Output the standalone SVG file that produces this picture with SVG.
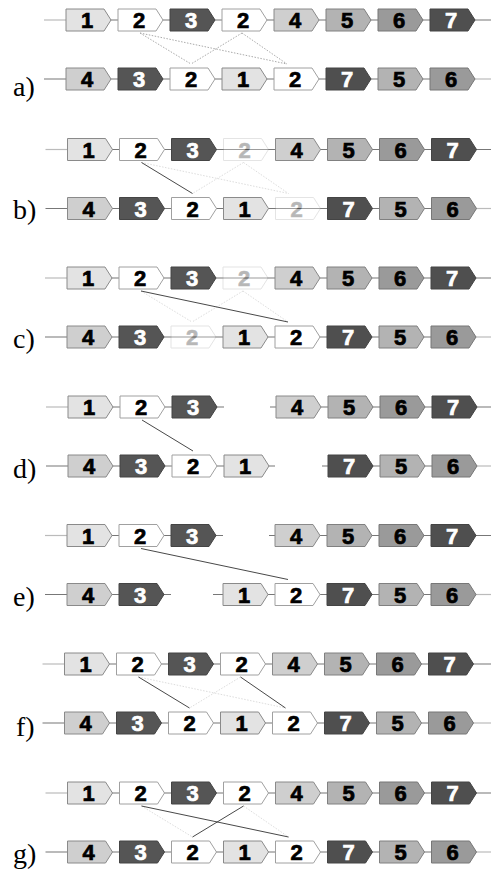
<svg xmlns="http://www.w3.org/2000/svg" xmlns:xlink="http://www.w3.org/1999/xlink" width="491" height="874" viewBox="0 0 491 874">
<style>
.gene text{font-family:"Liberation Sans","DejaVu Sans",sans-serif;font-weight:bold;font-size:22px;text-anchor:middle;stroke-width:0.7}
.k{fill:#000;stroke:#000}.w{fill:#fff;stroke:#fff}
.g1{fill:#e3e3e3;stroke:#8a8a8a}
.g2{fill:#fff;stroke:#a0a0a0}
.g3{fill:#555;stroke:#444}
.g4{fill:#cfcfcf;stroke:#8a8a8a}
.g5{fill:#b3b3b3;stroke:#808080}
.g6{fill:#9a9a9a;stroke:#777}
.g7{fill:#4f4f4f;stroke:#444}
.fade{opacity:0.28}
.bb{stroke:#777;stroke-width:1.2;fill:none}
.bbl{stroke:#bbb;stroke-width:1.2;fill:none}
.solid{stroke:#333;stroke-width:0.9;fill:none}
.dot{stroke:#aaa;stroke-width:1;stroke-dasharray:1.5 1.5;fill:none}
.faint{stroke:#ddd;stroke-width:1;stroke-dasharray:1.5 1.5;fill:none}
.lab{font-family:"Liberation Serif","DejaVu Serif",serif;font-size:28px;fill:#000}
</style>
<defs>
<path id="gene" d="M0,-11H38L45,0L38,11H0Z" stroke-width="1"/>
</defs>

<!-- Panel a -->
<g id="panel-a" transform="translate(0 20)">
<g class="connectors">
<path class="bbl" d="M44,0H66"/><path class="bb" d="M66,0H491"/>
<path class="bb" d="M44,59H470"/><path class="bbl" d="M470,59H491"/>
<path class="dot" d="M140,13L191,44"/>
<path class="dot" d="M242,13L191,44"/>
<path class="dot" d="M140,13L287,44"/>
<path class="dot" d="M242,13L287,44"/>
</g>
<g id="a-t1" class="gene" transform="translate(66 0)"><use xlink:href="#gene" class="g1"/><text x="21" y="8" class="k">1</text></g>
<g id="a-t2" class="gene" transform="translate(118 0)"><use xlink:href="#gene" class="g2"/><text x="21" y="8" class="k">2</text></g>
<g id="a-t3" class="gene" transform="translate(170 0)"><use xlink:href="#gene" class="g3"/><text x="21" y="8" class="w">3</text></g>
<g id="a-t4" class="gene" transform="translate(222 0)"><use xlink:href="#gene" class="g2"/><text x="21" y="8" class="k">2</text></g>
<g id="a-t5" class="gene" transform="translate(274 0)"><use xlink:href="#gene" class="g4"/><text x="21" y="8" class="k">4</text></g>
<g id="a-t6" class="gene" transform="translate(326 0)"><use xlink:href="#gene" class="g5"/><text x="21" y="8" class="k">5</text></g>
<g id="a-t7" class="gene" transform="translate(378 0)"><use xlink:href="#gene" class="g6"/><text x="21" y="8" class="k">6</text></g>
<g id="a-t8" class="gene" transform="translate(430 0)"><use xlink:href="#gene" class="g7"/><text x="21" y="8" class="w">7</text></g>
<g id="a-b1" class="gene" transform="translate(66 59)"><use xlink:href="#gene" class="g4"/><text x="21" y="8" class="k">4</text></g>
<g id="a-b2" class="gene" transform="translate(118 59)"><use xlink:href="#gene" class="g3"/><text x="21" y="8" class="w">3</text></g>
<g id="a-b3" class="gene" transform="translate(170 59)"><use xlink:href="#gene" class="g2"/><text x="21" y="8" class="k">2</text></g>
<g id="a-b4" class="gene" transform="translate(222 59)"><use xlink:href="#gene" class="g1"/><text x="21" y="8" class="k">1</text></g>
<g id="a-b5" class="gene" transform="translate(274 59)"><use xlink:href="#gene" class="g2"/><text x="21" y="8" class="k">2</text></g>
<g id="a-b6" class="gene" transform="translate(326 59)"><use xlink:href="#gene" class="g7"/><text x="21" y="8" class="w">7</text></g>
<g id="a-b7" class="gene" transform="translate(378 59)"><use xlink:href="#gene" class="g5"/><text x="21" y="8" class="k">5</text></g>
<g id="a-b8" class="gene" transform="translate(430 59)"><use xlink:href="#gene" class="g6"/><text x="21" y="8" class="k">6</text></g>
</g>

<!-- Panel b -->
<g id="panel-b" transform="translate(1.5 149.5)">
<g class="connectors">
<path class="bbl" d="M44,0H66"/><path class="bb" d="M66,0H491"/>
<path class="bb" d="M44,59H470"/><path class="bbl" d="M470,59H491"/>
<path class="faint" d="M242,13L191,44"/>
<path class="faint" d="M140,13L287,44"/>
<path class="faint" d="M242,13L287,44"/>
<path class="solid" d="M140,13L191,44"/>
</g>
<g id="b-t1" class="gene" transform="translate(66 0)"><use xlink:href="#gene" class="g1"/><text x="21" y="8" class="k">1</text></g>
<g id="b-t2" class="gene" transform="translate(118 0)"><use xlink:href="#gene" class="g2"/><text x="21" y="8" class="k">2</text></g>
<g id="b-t3" class="gene" transform="translate(170 0)"><use xlink:href="#gene" class="g3"/><text x="21" y="8" class="w">3</text></g>
<g id="b-t4" class="gene fade" transform="translate(222 0)"><use xlink:href="#gene" class="g2"/><text x="21" y="8" class="k">2</text></g>
<g id="b-t5" class="gene" transform="translate(274 0)"><use xlink:href="#gene" class="g4"/><text x="21" y="8" class="k">4</text></g>
<g id="b-t6" class="gene" transform="translate(326 0)"><use xlink:href="#gene" class="g5"/><text x="21" y="8" class="k">5</text></g>
<g id="b-t7" class="gene" transform="translate(378 0)"><use xlink:href="#gene" class="g6"/><text x="21" y="8" class="k">6</text></g>
<g id="b-t8" class="gene" transform="translate(430 0)"><use xlink:href="#gene" class="g7"/><text x="21" y="8" class="w">7</text></g>
<g id="b-b1" class="gene" transform="translate(66 59)"><use xlink:href="#gene" class="g4"/><text x="21" y="8" class="k">4</text></g>
<g id="b-b2" class="gene" transform="translate(118 59)"><use xlink:href="#gene" class="g3"/><text x="21" y="8" class="w">3</text></g>
<g id="b-b3" class="gene" transform="translate(170 59)"><use xlink:href="#gene" class="g2"/><text x="21" y="8" class="k">2</text></g>
<g id="b-b4" class="gene" transform="translate(222 59)"><use xlink:href="#gene" class="g1"/><text x="21" y="8" class="k">1</text></g>
<g id="b-b5" class="gene fade" transform="translate(274 59)"><use xlink:href="#gene" class="g2"/><text x="21" y="8" class="k">2</text></g>
<g id="b-b6" class="gene" transform="translate(326 59)"><use xlink:href="#gene" class="g7"/><text x="21" y="8" class="w">7</text></g>
<g id="b-b7" class="gene" transform="translate(378 59)"><use xlink:href="#gene" class="g5"/><text x="21" y="8" class="k">5</text></g>
<g id="b-b8" class="gene" transform="translate(430 59)"><use xlink:href="#gene" class="g6"/><text x="21" y="8" class="k">6</text></g>
</g>

<!-- Panel c -->
<g id="panel-c" transform="translate(1 278)">
<g class="connectors">
<path class="bbl" d="M44,0H66"/><path class="bb" d="M66,0H491"/>
<path class="bb" d="M44,59H470"/><path class="bbl" d="M470,59H491"/>
<path class="faint" d="M140,13L191,44"/>
<path class="faint" d="M242,13L191,44"/>
<path class="faint" d="M242,13L287,44"/>
<path class="solid" d="M140,13L287,44"/>
</g>
<g id="c-t1" class="gene" transform="translate(66 0)"><use xlink:href="#gene" class="g1"/><text x="21" y="8" class="k">1</text></g>
<g id="c-t2" class="gene" transform="translate(118 0)"><use xlink:href="#gene" class="g2"/><text x="21" y="8" class="k">2</text></g>
<g id="c-t3" class="gene" transform="translate(170 0)"><use xlink:href="#gene" class="g3"/><text x="21" y="8" class="w">3</text></g>
<g id="c-t4" class="gene fade" transform="translate(222 0)"><use xlink:href="#gene" class="g2"/><text x="21" y="8" class="k">2</text></g>
<g id="c-t5" class="gene" transform="translate(274 0)"><use xlink:href="#gene" class="g4"/><text x="21" y="8" class="k">4</text></g>
<g id="c-t6" class="gene" transform="translate(326 0)"><use xlink:href="#gene" class="g5"/><text x="21" y="8" class="k">5</text></g>
<g id="c-t7" class="gene" transform="translate(378 0)"><use xlink:href="#gene" class="g6"/><text x="21" y="8" class="k">6</text></g>
<g id="c-t8" class="gene" transform="translate(430 0)"><use xlink:href="#gene" class="g7"/><text x="21" y="8" class="w">7</text></g>
<g id="c-b1" class="gene" transform="translate(66 59)"><use xlink:href="#gene" class="g4"/><text x="21" y="8" class="k">4</text></g>
<g id="c-b2" class="gene" transform="translate(118 59)"><use xlink:href="#gene" class="g3"/><text x="21" y="8" class="w">3</text></g>
<g id="c-b3" class="gene fade" transform="translate(170 59)"><use xlink:href="#gene" class="g2"/><text x="21" y="8" class="k">2</text></g>
<g id="c-b4" class="gene" transform="translate(222 59)"><use xlink:href="#gene" class="g1"/><text x="21" y="8" class="k">1</text></g>
<g id="c-b5" class="gene" transform="translate(274 59)"><use xlink:href="#gene" class="g2"/><text x="21" y="8" class="k">2</text></g>
<g id="c-b6" class="gene" transform="translate(326 59)"><use xlink:href="#gene" class="g7"/><text x="21" y="8" class="w">7</text></g>
<g id="c-b7" class="gene" transform="translate(378 59)"><use xlink:href="#gene" class="g5"/><text x="21" y="8" class="k">5</text></g>
<g id="c-b8" class="gene" transform="translate(430 59)"><use xlink:href="#gene" class="g6"/><text x="21" y="8" class="k">6</text></g>
</g>

<!-- Panel d -->
<g id="panel-d" transform="translate(2 407)">
<g class="connectors">
<path class="bbl" d="M44,0H66"/><path class="bb" d="M66,0H222"/><path class="bb" d="M268,0H491"/>
<path class="bb" d="M44,59H273"/><path class="bb" d="M320,59H470"/><path class="bbl" d="M470,59H491"/>
<path class="solid" d="M140,13L191,44"/>
</g>
<g id="d-t1" class="gene" transform="translate(66 0)"><use xlink:href="#gene" class="g1"/><text x="21" y="8" class="k">1</text></g>
<g id="d-t2" class="gene" transform="translate(118 0)"><use xlink:href="#gene" class="g2"/><text x="21" y="8" class="k">2</text></g>
<g id="d-t3" class="gene" transform="translate(170 0)"><use xlink:href="#gene" class="g3"/><text x="21" y="8" class="w">3</text></g>
<g id="d-t5" class="gene" transform="translate(274 0)"><use xlink:href="#gene" class="g4"/><text x="21" y="8" class="k">4</text></g>
<g id="d-t6" class="gene" transform="translate(326 0)"><use xlink:href="#gene" class="g5"/><text x="21" y="8" class="k">5</text></g>
<g id="d-t7" class="gene" transform="translate(378 0)"><use xlink:href="#gene" class="g6"/><text x="21" y="8" class="k">6</text></g>
<g id="d-t8" class="gene" transform="translate(430 0)"><use xlink:href="#gene" class="g7"/><text x="21" y="8" class="w">7</text></g>
<g id="d-b1" class="gene" transform="translate(66 59)"><use xlink:href="#gene" class="g4"/><text x="21" y="8" class="k">4</text></g>
<g id="d-b2" class="gene" transform="translate(118 59)"><use xlink:href="#gene" class="g3"/><text x="21" y="8" class="w">3</text></g>
<g id="d-b3" class="gene" transform="translate(170 59)"><use xlink:href="#gene" class="g2"/><text x="21" y="8" class="k">2</text></g>
<g id="d-b4" class="gene" transform="translate(222 59)"><use xlink:href="#gene" class="g1"/><text x="21" y="8" class="k">1</text></g>
<g id="d-b6" class="gene" transform="translate(326 59)"><use xlink:href="#gene" class="g7"/><text x="21" y="8" class="w">7</text></g>
<g id="d-b7" class="gene" transform="translate(378 59)"><use xlink:href="#gene" class="g5"/><text x="21" y="8" class="k">5</text></g>
<g id="d-b8" class="gene" transform="translate(430 59)"><use xlink:href="#gene" class="g6"/><text x="21" y="8" class="k">6</text></g>
</g>

<!-- Panel e -->
<g id="panel-e" transform="translate(1 535.5)">
<g class="connectors">
<path class="bbl" d="M44,0H66"/><path class="bb" d="M66,0H222"/><path class="bb" d="M268,0H491"/>
<path class="bb" d="M44,59H170"/><path class="bb" d="M212,59H470"/><path class="bbl" d="M470,59H491"/>
<path class="solid" d="M140,13L287,44"/>
</g>
<g id="e-t1" class="gene" transform="translate(66 0)"><use xlink:href="#gene" class="g1"/><text x="21" y="8" class="k">1</text></g>
<g id="e-t2" class="gene" transform="translate(118 0)"><use xlink:href="#gene" class="g2"/><text x="21" y="8" class="k">2</text></g>
<g id="e-t3" class="gene" transform="translate(170 0)"><use xlink:href="#gene" class="g3"/><text x="21" y="8" class="w">3</text></g>
<g id="e-t5" class="gene" transform="translate(274 0)"><use xlink:href="#gene" class="g4"/><text x="21" y="8" class="k">4</text></g>
<g id="e-t6" class="gene" transform="translate(326 0)"><use xlink:href="#gene" class="g5"/><text x="21" y="8" class="k">5</text></g>
<g id="e-t7" class="gene" transform="translate(378 0)"><use xlink:href="#gene" class="g6"/><text x="21" y="8" class="k">6</text></g>
<g id="e-t8" class="gene" transform="translate(430 0)"><use xlink:href="#gene" class="g7"/><text x="21" y="8" class="w">7</text></g>
<g id="e-b1" class="gene" transform="translate(66 59)"><use xlink:href="#gene" class="g4"/><text x="21" y="8" class="k">4</text></g>
<g id="e-b2" class="gene" transform="translate(118 59)"><use xlink:href="#gene" class="g3"/><text x="21" y="8" class="w">3</text></g>
<g id="e-b4" class="gene" transform="translate(222 59)"><use xlink:href="#gene" class="g1"/><text x="21" y="8" class="k">1</text></g>
<g id="e-b5" class="gene" transform="translate(274 59)"><use xlink:href="#gene" class="g2"/><text x="21" y="8" class="k">2</text></g>
<g id="e-b6" class="gene" transform="translate(326 59)"><use xlink:href="#gene" class="g7"/><text x="21" y="8" class="w">7</text></g>
<g id="e-b7" class="gene" transform="translate(378 59)"><use xlink:href="#gene" class="g5"/><text x="21" y="8" class="k">5</text></g>
<g id="e-b8" class="gene" transform="translate(430 59)"><use xlink:href="#gene" class="g6"/><text x="21" y="8" class="k">6</text></g>
</g>

<!-- Panel f -->
<g id="panel-f" transform="translate(-1.5 664)">
<g class="connectors">
<path class="bbl" d="M44,0H66"/><path class="bb" d="M66,0H493"/>
<path class="bb" d="M44,59H470"/><path class="bbl" d="M470,59H493"/>
<path class="faint" d="M242,13L191,44"/>
<path class="faint" d="M140,13L287,44"/>
<path class="solid" d="M140,13L191,44"/>
<path class="solid" d="M242,13L287,44"/>
</g>
<g id="f-t1" class="gene" transform="translate(66 0)"><use xlink:href="#gene" class="g1"/><text x="21" y="8" class="k">1</text></g>
<g id="f-t2" class="gene" transform="translate(118 0)"><use xlink:href="#gene" class="g2"/><text x="21" y="8" class="k">2</text></g>
<g id="f-t3" class="gene" transform="translate(170 0)"><use xlink:href="#gene" class="g3"/><text x="21" y="8" class="w">3</text></g>
<g id="f-t4" class="gene" transform="translate(222 0)"><use xlink:href="#gene" class="g2"/><text x="21" y="8" class="k">2</text></g>
<g id="f-t5" class="gene" transform="translate(274 0)"><use xlink:href="#gene" class="g4"/><text x="21" y="8" class="k">4</text></g>
<g id="f-t6" class="gene" transform="translate(326 0)"><use xlink:href="#gene" class="g5"/><text x="21" y="8" class="k">5</text></g>
<g id="f-t7" class="gene" transform="translate(378 0)"><use xlink:href="#gene" class="g6"/><text x="21" y="8" class="k">6</text></g>
<g id="f-t8" class="gene" transform="translate(430 0)"><use xlink:href="#gene" class="g7"/><text x="21" y="8" class="w">7</text></g>
<g id="f-b1" class="gene" transform="translate(66 59)"><use xlink:href="#gene" class="g4"/><text x="21" y="8" class="k">4</text></g>
<g id="f-b2" class="gene" transform="translate(118 59)"><use xlink:href="#gene" class="g3"/><text x="21" y="8" class="w">3</text></g>
<g id="f-b3" class="gene" transform="translate(170 59)"><use xlink:href="#gene" class="g2"/><text x="21" y="8" class="k">2</text></g>
<g id="f-b4" class="gene" transform="translate(222 59)"><use xlink:href="#gene" class="g1"/><text x="21" y="8" class="k">1</text></g>
<g id="f-b5" class="gene" transform="translate(274 59)"><use xlink:href="#gene" class="g2"/><text x="21" y="8" class="k">2</text></g>
<g id="f-b6" class="gene" transform="translate(326 59)"><use xlink:href="#gene" class="g7"/><text x="21" y="8" class="w">7</text></g>
<g id="f-b7" class="gene" transform="translate(378 59)"><use xlink:href="#gene" class="g5"/><text x="21" y="8" class="k">5</text></g>
<g id="f-b8" class="gene" transform="translate(430 59)"><use xlink:href="#gene" class="g6"/><text x="21" y="8" class="k">6</text></g>
</g>

<!-- Panel g -->
<g id="panel-g" transform="translate(1.5 793)">
<g class="connectors">
<path class="bbl" d="M44,0H66"/><path class="bb" d="M66,0H491"/>
<path class="bb" d="M44,59H470"/><path class="bbl" d="M470,59H491"/>
<path class="faint" d="M140,13L191,44"/>
<path class="faint" d="M242,13L287,44"/>
<path class="solid" d="M140,13L287,44"/>
<path class="solid" d="M242,13L191,44"/>
</g>
<g id="g-t1" class="gene" transform="translate(66 0)"><use xlink:href="#gene" class="g1"/><text x="21" y="8" class="k">1</text></g>
<g id="g-t2" class="gene" transform="translate(118 0)"><use xlink:href="#gene" class="g2"/><text x="21" y="8" class="k">2</text></g>
<g id="g-t3" class="gene" transform="translate(170 0)"><use xlink:href="#gene" class="g3"/><text x="21" y="8" class="w">3</text></g>
<g id="g-t4" class="gene" transform="translate(222 0)"><use xlink:href="#gene" class="g2"/><text x="21" y="8" class="k">2</text></g>
<g id="g-t5" class="gene" transform="translate(274 0)"><use xlink:href="#gene" class="g4"/><text x="21" y="8" class="k">4</text></g>
<g id="g-t6" class="gene" transform="translate(326 0)"><use xlink:href="#gene" class="g5"/><text x="21" y="8" class="k">5</text></g>
<g id="g-t7" class="gene" transform="translate(378 0)"><use xlink:href="#gene" class="g6"/><text x="21" y="8" class="k">6</text></g>
<g id="g-t8" class="gene" transform="translate(430 0)"><use xlink:href="#gene" class="g7"/><text x="21" y="8" class="w">7</text></g>
<g id="g-b1" class="gene" transform="translate(66 59)"><use xlink:href="#gene" class="g4"/><text x="21" y="8" class="k">4</text></g>
<g id="g-b2" class="gene" transform="translate(118 59)"><use xlink:href="#gene" class="g3"/><text x="21" y="8" class="w">3</text></g>
<g id="g-b3" class="gene" transform="translate(170 59)"><use xlink:href="#gene" class="g2"/><text x="21" y="8" class="k">2</text></g>
<g id="g-b4" class="gene" transform="translate(222 59)"><use xlink:href="#gene" class="g1"/><text x="21" y="8" class="k">1</text></g>
<g id="g-b5" class="gene" transform="translate(274 59)"><use xlink:href="#gene" class="g2"/><text x="21" y="8" class="k">2</text></g>
<g id="g-b6" class="gene" transform="translate(326 59)"><use xlink:href="#gene" class="g7"/><text x="21" y="8" class="w">7</text></g>
<g id="g-b7" class="gene" transform="translate(378 59)"><use xlink:href="#gene" class="g5"/><text x="21" y="8" class="k">5</text></g>
<g id="g-b8" class="gene" transform="translate(430 59)"><use xlink:href="#gene" class="g6"/><text x="21" y="8" class="k">6</text></g>
</g>

<g id="labels">
<text class="lab" x="13" y="96">a)</text>
<text class="lab" x="13" y="219">b)</text>
<text class="lab" x="13" y="348">c)</text>
<text class="lab" x="13" y="478">d)</text>
<text class="lab" x="13" y="606">e)</text>
<text class="lab" x="16" y="736">f)</text>
<text class="lab" x="13" y="863">g)</text>
</g>
</svg>
